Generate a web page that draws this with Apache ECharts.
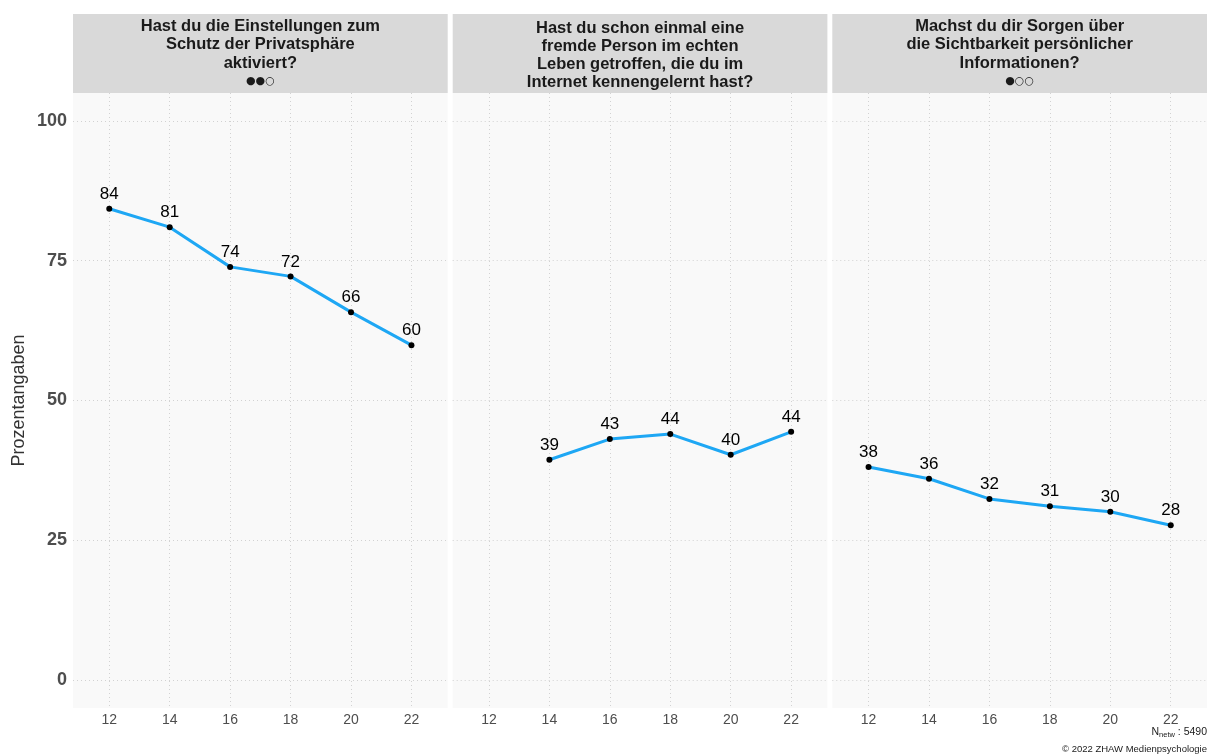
<!DOCTYPE html>
<html>
<head>
<meta charset="utf-8">
<script src="https://cdn.jsdelivr.net/npm/echarts@6/dist/echarts.min.js"></script>
<style>html,body{margin:0;padding:0;background:#fff}#c{width:1210px;height:755px}</style>
</head>
<body>
<div id="c"></div>
<script>
const ages = [12, 14, 16, 18, 20, 22];
const privacySettings = [84.3, 81.0, 73.9, 72.2, 65.8, 59.9];
const metStranger = [null, 39.4, 43.1, 44.0, 40.3, 44.4];
const visibilityConcern = [38.1, 36.0, 32.4, 31.1, 30.1, 27.7];
const yTicks = [0, 25, 50, 75, 100];
const panelTitles = [
  ['Hast du die Einstellungen zum', 'Schutz der Privatsphäre', 'aktiviert?'],
  ['Hast du schon einmal eine', 'fremde Person im echten', 'Leben getroffen, die du im', 'Internet kennengelernt hast?'],
  ['Machst du dir Sorgen über', 'die Sichtbarkeit persönlicher', 'Informationen?']
];
const panelRatings = ['●●○', null, '●○○'];
const yTitle = 'Prozentangaben';
const nLabel = '5490';
const copyright = '© 2022 ZHAW Medienpsychologie';

const seriesValues = [privacySettings, metStranger, visibilityConcern];
const FONT = '"Liberation Sans", Arial, Helvetica, sans-serif';
const panelLeft = [73, 452.7, 832.3];
const panelW = 374.7;
const panelTop = 93;
const panelH = 615;
const stripTop = 14;

const grids = [], xAxes = [], yAxes = [], series = [], graphics = [];
for (let p = 0; p < 3; p++) {
  grids.push({left: panelLeft[p], top: panelTop, width: panelW, height: panelH,
    show: true, backgroundColor: '#f9f9f9', borderWidth: 0, containLabel: false});
  xAxes.push({type: 'value', gridIndex: p, min: 10.8, max: 23.2,
    axisLine: {show: false},
    axisTick: {show: false, customValues: ages},
    axisLabel: {customValues: ages, color: '#4d4d4d', fontSize: 14, fontFamily: FONT, margin: 5},
    splitLine: {show: true, lineStyle: {color: '#d2d2d2', type: [1, 3], width: 1}}});
  yAxes.push({type: 'value', gridIndex: p, min: -5, max: 105,
    name: p === 0 ? yTitle : '', nameLocation: 'middle', nameGap: 45,
    nameTextStyle: {color: '#333', fontSize: 18, fontFamily: FONT},
    axisLine: {show: false},
    axisTick: {show: false, customValues: yTicks},
    axisLabel: {show: p === 0, customValues: yTicks, color: '#4d4d4d', fontSize: 18, fontWeight: 'bold', fontFamily: FONT, margin: 6},
    splitLine: {show: true, lineStyle: {color: '#d2d2d2', type: [1, 3], width: 1}}});
  const data = [];
  ages.forEach((a, i) => { if (seriesValues[p][i] != null) data.push([a, seriesValues[p][i]]); });
  series.push({type: 'line', xAxisIndex: p, yAxisIndex: p, data: data,
    symbol: 'circle', symbolSize: 6, showAllSymbol: true,
    lineStyle: {color: '#1ea7f4', width: 3},
    itemStyle: {color: '#000'},
    label: {show: true, position: 'top', distance: 3, color: '#000', fontSize: 17, fontFamily: FONT,
      formatter: (d) => String(Math.round(d.value[1]))},
    emphasis: {disabled: true}, animation: false, z: 3});
  // strip
  graphics.push({type: 'rect', shape: {x: panelLeft[p], y: stripTop, width: panelW, height: panelTop - stripTop},
    style: {fill: '#d9d9d9'}, silent: true});
  let txt = panelTitles[p].map(l => '{t|' + l + '}').join('\n');
  const hasDots = !!panelRatings[p];
  if (hasDots) txt += '\n{d|' + panelRatings[p] + '}';
  const lh = hasDots ? 18.5 : 18;
  graphics.push({type: 'text', x: panelLeft[p] + panelW / 2, y: hasDots ? 17 : 19, silent: true,
    style: {text: txt, align: 'center', verticalAlign: 'top',
      rich: {t: {fontSize: 16.5, fontWeight: 'bold', fontFamily: FONT, fill: '#1a1a1a', lineHeight: lh, align: 'center'},
             d: {fontSize: 11, fontFamily: 'DejaVu Sans, sans-serif', fill: '#1a1a1a', lineHeight: 17, align: 'center'}}}});
}
graphics.push({type: 'text', right: 3, top: 727, silent: true,
  style: {text: '{n|N}{s|netw}{n| : ' + nLabel + '}', rich: {
    n: {fontSize: 10.5, fontFamily: FONT, fill: '#1a1a1a'},
    s: {fontSize: 7.5, fontFamily: FONT, fill: '#1a1a1a', verticalAlign: 'bottom', padding: [5, 0, 0, 0]}}}});
graphics.push({type: 'text', right: 3, top: 744, silent: true,
  style: {text: copyright, fontSize: 9.5, fontFamily: FONT, fill: '#1a1a1a'}});

const chart = echarts.init(document.getElementById('c'), null, {renderer: 'canvas'});
chart.setOption({animation: false, backgroundColor: '#fff', grid: grids, xAxis: xAxes, yAxis: yAxes, series: series, graphic: graphics});
</script>
</body>
</html>
